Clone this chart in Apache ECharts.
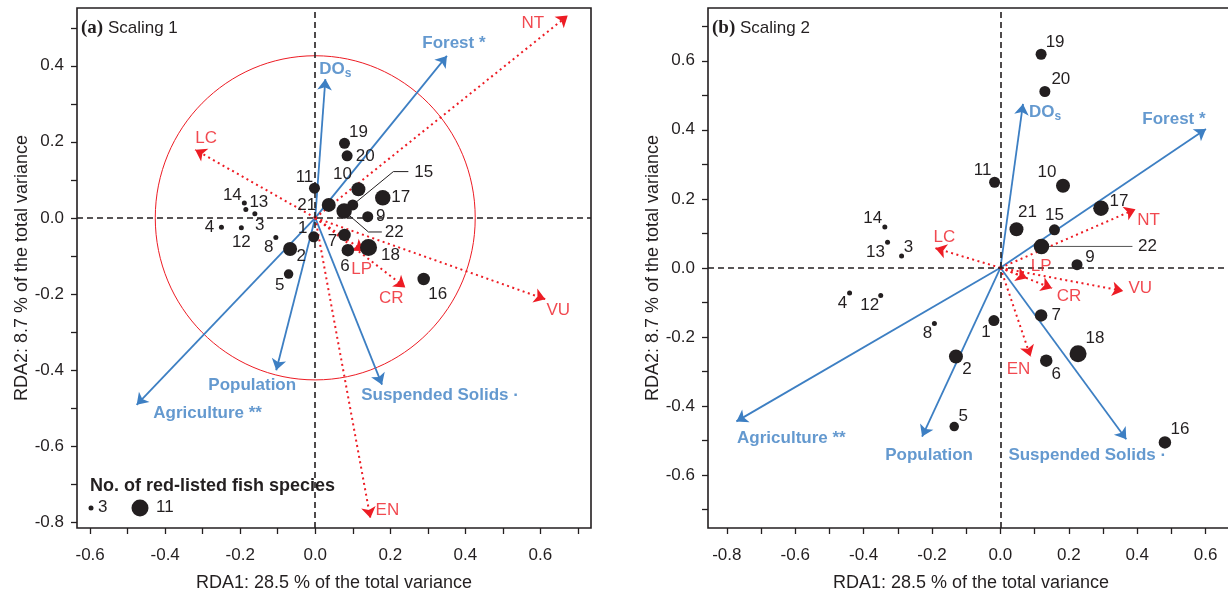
<!DOCTYPE html>
<html><head><meta charset="utf-8">
<script src="https://cdn.jsdelivr.net/npm/echarts@6/dist/echarts.min.js"></script>
<style>html,body{margin:0;padding:0;background:#fff}#c{width:1228px;height:596px}</style>
</head><body><div id="c"></div>
<script>
// ---------- DATA ----------
const sites = ['1','2','3','4','5','6','7','8','9','10','11','12','13','14','15','16','17','18','19','20','21','22'];
const redListedCount = [7,9,3,3,6,8,8,3,7,9,7,3,3,3,7,8,10,11,7,7,9,10];

// (a) Scaling 1 site scores
const siteA_x = [-0.004,-0.067,-0.161,-0.250,-0.071,0.087,0.078,-0.105,0.140,0.115,-0.002,-0.197,-0.185,-0.189,0.100,0.289,0.180,0.142,0.078,0.085,0.036,0.077];
const siteA_y = [-0.050,-0.082,0.011,-0.025,-0.148,-0.085,-0.045,-0.052,0.003,0.075,0.078,-0.026,0.022,0.039,0.034,-0.161,0.053,-0.078,0.196,0.163,0.034,0.018];
// (b) Scaling 2 site scores
const siteB_x = [-0.019,-0.130,-0.289,-0.441,-0.135,0.134,0.119,-0.193,0.224,0.183,-0.017,-0.350,-0.330,-0.338,0.158,0.481,0.294,0.227,0.119,0.130,0.047,0.120];
const siteB_y = [-0.153,-0.257,0.034,-0.073,-0.460,-0.269,-0.138,-0.161,0.009,0.238,0.248,-0.080,0.074,0.118,0.110,-0.506,0.173,-0.249,0.619,0.511,0.112,0.062];

// explanatory variables (blue arrows)
const envVars = ['DOs','Forest *','Agriculture **','Population','Suspended Solids \u00b7'];
const envA_x = [0.027,0.351,-0.476,-0.104,0.178];
const envA_y = [0.365,0.426,-0.492,-0.401,-0.439];
const envB_x = [0.066,0.601,-0.772,-0.229,0.368];
const envB_y = [0.475,0.402,-0.445,-0.489,-0.497];

// response variables (red dotted arrows)
const redList = ['NT','LC','VU','CR','LP','EN'];
const redA_x = [0.673,-0.320,0.613,0.240,0.129,0.147];
const redA_y = [0.532,0.179,-0.214,-0.183,-0.087,-0.790];
const redB_x = [0.395,-0.190,0.359,0.151,0.078,0.088];
const redB_y = [0.170,0.057,-0.067,-0.059,-0.030,-0.257];

const circleRadiusA = 0.4264; // equilibrium contribution circle

// axis ticks / labels
const ticksA_x = [-0.6,-0.5,-0.4,-0.3,-0.2,-0.1,0,0.1,0.2,0.3,0.4,0.5,0.6,0.7];
const labelsA_x = [-0.6,-0.4,-0.2,0,0.2,0.4,0.6];
const ticksA_y = [-0.8,-0.7,-0.6,-0.5,-0.4,-0.3,-0.2,-0.1,0,0.1,0.2,0.3,0.4,0.5];
const labelsA_y = [-0.8,-0.6,-0.4,-0.2,0,0.2,0.4];
const ticksB_x = [-0.8,-0.7,-0.6,-0.5,-0.4,-0.3,-0.2,-0.1,0,0.1,0.2,0.3,0.4,0.5,0.6];
const labelsB_x = [-0.8,-0.6,-0.4,-0.2,0,0.2,0.4,0.6];
const ticksB_y = [-0.7,-0.6,-0.5,-0.4,-0.3,-0.2,-0.1,0,0.1,0.2,0.3,0.4,0.5,0.6,0.7];
const labelsB_y = [-0.6,-0.4,-0.2,0,0.2,0.4,0.6];

// ---------- STYLE / LAYOUT ----------
const BLUE = '#3d7fc3', RED = '#ed1c24', INK = '#231f20';
const FONT = '"Liberation Sans", Arial, sans-serif';
const sizeOf = n => 5 + (n - 3) * 1.5;

// label offsets (px, label centre relative to mark)
const siteLabelOffA = [[-11,-9],[11,7],[5,12],[-12,0],[-9,11],[-3,16],[-12,6],[-7,10],[13,0],[-16,-15],[-10,-11],[0,15],[13,-7],[-12,-8],[71,-33],[14,15],[18,0],[22,8],[14,-11],[18,0],[-22,0],[50,21]];
const siteLabelOffB = [[-8,12],[11,13],[7,-9],[-7,10],[9,-10],[10,14],[15,0],[-7,10],[13,-7],[-16,-13],[-12,-12],[-11,10],[-12,10],[-12,-9],[0,-15],[15,-13],[18,-7],[17,-15],[14,-12],[16,-12],[11,-17],[106,0]];
const leaderA = {14: [[40.6,-33.3],[55.6,-33.3]], 21: [[24.3,21],[37.7,21]]};
const leaderB = {21: [[6,0],[91,0]]};
const envLabelOffA = [[10,-10],[7,-13],[71,8],[-24,15],[58,11]];
const envLabelOffB = [[22,8],[-32,-10],[55,17],[7,19],[-39,16]];
const redLabelOffA = [[-35,8],[11,-11],[13,11],[-14,11],[-2,18],[17,-8]];
const redLabelOffB = [[13,11],[9,-11],[17,-3],[17,8],[14,-12],[-12,13]];

function axisX(gi, min, max, ticks, labels) {
  return {
    gridIndex: gi, type: 'value', min: min, max: max,
    name: 'RDA1: 28.5 % of the total variance', nameLocation: 'middle', nameGap: 46,
    nameTextStyle: {fontFamily: FONT, fontSize: 18, color: INK},
    axisLine: {show: false, onZero: false}, splitLine: {show: false},
    axisTick: {show: true, length: 6, customValues: ticks, lineStyle: {color: INK, width: 1.3}},
    axisLabel: {customValues: labels, margin: 19, fontFamily: FONT, fontSize: 17, color: INK,
      formatter: v => Number(v).toFixed(1)}
  };
}
function axisY(gi, min, max, ticks, labels) {
  return {
    gridIndex: gi, type: 'value', min: min, max: max,
    name: 'RDA2: 8.7 % of the total variance', nameLocation: 'middle', nameGap: 46,
    nameTextStyle: {fontFamily: FONT, fontSize: 18, color: INK},
    axisLine: {show: false, onZero: false}, splitLine: {show: false},
    axisTick: {show: true, length: 6, customValues: ticks, lineStyle: {color: INK, width: 1.3}},
    axisLabel: {customValues: labels, margin: 13, fontFamily: FONT, fontSize: 17, color: INK,
      formatter: v => Number(v).toFixed(1)}
  };
}

function panelSeries(gi, sx, sy, ex, ey, rx, ry, siteOff, leaders, envOff, redOff, withCircle) {
  const s = [];
  // zero lines
  s.push({
    type: 'scatter', xAxisIndex: gi, yAxisIndex: gi, data: [], silent: true,
    markLine: {silent: true, symbol: 'none', label: {show: false}, animation: false,
      lineStyle: {color: INK, width: 1.6, type: [6, 4]},
      data: [{xAxis: 0}, {yAxis: 0}]}
  });
  if (withCircle) {
    s.push({
      type: 'custom', xAxisIndex: gi, yAxisIndex: gi, silent: true, z: 1,
      encode: {x: 0, y: 1},
      data: [[0, 0, circleRadiusA]],
      renderItem: (params, api) => {
        const c = api.coord([api.value(0), api.value(1)]);
        const r = api.size([api.value(2), api.value(2)]);
        return {type: 'ellipse', shape: {cx: c[0], cy: c[1], rx: r[0], ry: r[1]},
          style: {fill: 'none', stroke: RED, lineWidth: 1}};
      }
    });
  }
  // leader lines
  const ld = Object.keys(leaders).map(k => [sx[+k], sy[+k], +k]);
  s.push({
    type: 'custom', xAxisIndex: gi, yAxisIndex: gi, silent: true, z: 2,
    encode: {x: 0, y: 1}, data: ld,
    renderItem: (params, api) => {
      const p = api.coord([api.value(0), api.value(1)]);
      const offs = leaders[api.value(2)];
      const pts = [p].concat(offs.map(o => [p[0] + o[0], p[1] + o[1]]));
      return {type: 'polyline', shape: {points: pts}, style: {fill: 'none', stroke: gi === 0 ? INK : '#555', lineWidth: 1}};
    }
  });
  // blue arrows
  s.push({
    type: 'lines', coordinateSystem: 'cartesian2d', xAxisIndex: gi, yAxisIndex: gi, z: 3,
    symbol: ['none', 'arrow'], symbolSize: 11, silent: true,
    lineStyle: {color: BLUE, width: 1.8, opacity: 1},
    data: envVars.map((n, i) => ({coords: [[0, 0], [ex[i], ey[i]]]}))
  });
  // red dotted arrows
  s.push({
    type: 'lines', coordinateSystem: 'cartesian2d', xAxisIndex: gi, yAxisIndex: gi, z: 3,
    symbol: ['none', 'arrow'], symbolSize: 11, silent: true,
    lineStyle: {color: RED, width: 2, type: [2, 3.5], opacity: 1},
    data: redList.map((n, i) => ({coords: [[0, 0], [rx[i], ry[i]]]}))
  });
  // arrow labels (blue)
  s.push({
    type: 'scatter', xAxisIndex: gi, yAxisIndex: gi, z: 5, symbolSize: 1, silent: true,
    itemStyle: {color: 'rgba(0,0,0,0)'},
    data: envVars.map((n, i) => ({name: n, value: [ex[i], ey[i]], label: {offset: envOff[i]}})),
    label: {show: true, position: 'inside', textBorderWidth: 0,
      formatter: p => p.name === 'DOs' ? '{m|DO}{s|s}' : '{m|' + p.name + '}',
      rich: {
        m: {fontFamily: FONT, fontSize: 17, fontWeight: 'bold', color: BLUE, lineHeight: 22},
        s: {fontFamily: FONT, fontSize: 12, fontWeight: 'bold', color: BLUE, lineHeight: 14, verticalAlign: 'bottom'}
      }}
  });
  // arrow labels (red)
  s.push({
    type: 'scatter', xAxisIndex: gi, yAxisIndex: gi, z: 5, symbolSize: 1, silent: true,
    itemStyle: {color: 'rgba(0,0,0,0)'},
    data: redList.map((n, i) => ({name: n, value: [rx[i], ry[i]], label: {offset: redOff[i]}})),
    label: {show: true, position: 'inside', formatter: '{b}', color: RED, textBorderWidth: 0,
      fontFamily: FONT, fontSize: 17}
  });
  // sites
  s.push({
    type: 'scatter', xAxisIndex: gi, yAxisIndex: gi, z: 4, silent: true,
    itemStyle: {color: INK, opacity: 1},
    symbolSize: v => sizeOf(v[2]),
    data: sites.map((n, i) => ({name: n, value: [sx[i], sy[i], redListedCount[i]], label: {offset: siteOff[i]}})),
    label: {show: true, position: 'inside', formatter: '{b}', color: INK, textBorderWidth: 0,
      fontFamily: FONT, fontSize: 17}
  });
  return s;
}

const chart = echarts.init(document.getElementById('c'), null, {renderer: 'canvas'});
const option = {
  animation: false,
  backgroundColor: '#fff',
  grid: [
    {left: 77, top: 8, width: 514, height: 520, show: true, borderColor: INK, borderWidth: 1.6, backgroundColor: 'transparent', outerBoundsMode: 'none', containLabel: false},
    {left: 708, top: 8, width: 526, height: 520, show: true, borderColor: INK, borderWidth: 1.6, backgroundColor: 'transparent', outerBoundsMode: 'none', containLabel: false}
  ],
  xAxis: [axisX(0, -0.635, 0.735, ticksA_x, labelsA_x), axisX(1, -0.855, 0.683, ticksB_x, labelsB_x)],
  yAxis: [axisY(0, -0.816, 0.552, ticksA_y, labelsA_y), axisY(1, -0.754, 0.753, ticksB_y, labelsB_y)],
  title: [
    {left: 81, top: 19, padding: 0, text: '{b|(a)} Scaling 1',
      textStyle: {fontFamily: FONT, fontSize: 17, fontWeight: 'normal', color: INK,
        rich: {b: {fontFamily: '"Liberation Serif", serif', fontWeight: 'bold', fontSize: 19, color: INK}}}},
    {left: 712, top: 19, padding: 0, text: '{b|(b)} Scaling 2',
      textStyle: {fontFamily: FONT, fontSize: 17, fontWeight: 'normal', color: INK,
        rich: {b: {fontFamily: '"Liberation Serif", serif', fontWeight: 'bold', fontSize: 19, color: INK}}}}
  ],
  graphic: [
    {type: 'text', left: 90, top: 477, style: {text: 'No. of red-listed fish species', font: 'bold 18px ' + FONT, fill: INK}},
    {type: 'circle', shape: {cx: 91, cy: 508, r: sizeOf(3) / 2}, style: {fill: INK}},
    {type: 'text', left: 98, top: 499, style: {text: '3', font: '17px ' + FONT, fill: INK}},
    {type: 'circle', shape: {cx: 140, cy: 508, r: sizeOf(11) / 2}, style: {fill: INK}},
    {type: 'text', left: 156, top: 499, style: {text: '11', font: '17px ' + FONT, fill: INK}}
  ],
  series: [].concat(
    panelSeries(0, siteA_x, siteA_y, envA_x, envA_y, redA_x, redA_y, siteLabelOffA, leaderA, envLabelOffA, redLabelOffA, true),
    panelSeries(1, siteB_x, siteB_y, envB_x, envB_y, redB_x, redB_y, siteLabelOffB, leaderB, envLabelOffB, redLabelOffB, false)
  )
};
chart.setOption(option);
</script>
</body></html>
